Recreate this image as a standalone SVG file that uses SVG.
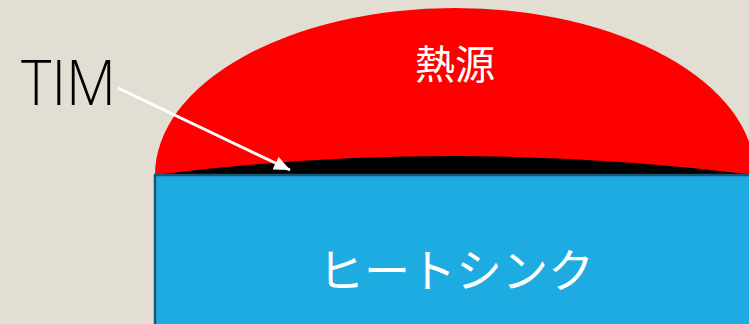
<svg xmlns="http://www.w3.org/2000/svg" width="749" height="324" viewBox="0 0 749 324">
<style>
.lbl{fill:#fff;font-family:"Noto Sans CJK JP",sans-serif;text-anchor:middle}
</style>
<defs>
<marker id="ah" markerWidth="16" markerHeight="14" refX="16" refY="7" orient="auto" markerUnits="userSpaceOnUse">
<path d="M0,0 L16,7 L0,14 Z" fill="#fff"/>
</marker>
</defs>
<rect width="749" height="324" fill="#E3DED3"/>
<g id="heat-source">
<path d="M155,175 A300,167 0 0 1 755,175 Z" fill="#FF0000"/>
<text class="lbl" x="455" y="79" font-size="40">熱源</text>
</g>
<g id="tim">
<path d="M155,175 Q450,137 755,175 Z" fill="#000"/>
</g>
<g id="heatsink">
<rect x="155" y="175" width="600" height="160" fill="#1EABE2" stroke="#1A5675" stroke-width="2.5"/>
<text class="lbl" x="456" y="287" font-size="46">ヒートシンク</text>
</g>
<g id="tim-label">
<text x="21" y="105" font-family="'Open Sans','Liberation Sans',sans-serif" font-weight="300" font-size="62" fill="#000" textLength="95" lengthAdjust="spacingAndGlyphs">TIM</text>
</g>
<g id="connectors">
<line x1="118" y1="88" x2="290" y2="170" stroke="#fff" stroke-width="3" marker-end="url(#ah)"/>
</g>
</svg>
